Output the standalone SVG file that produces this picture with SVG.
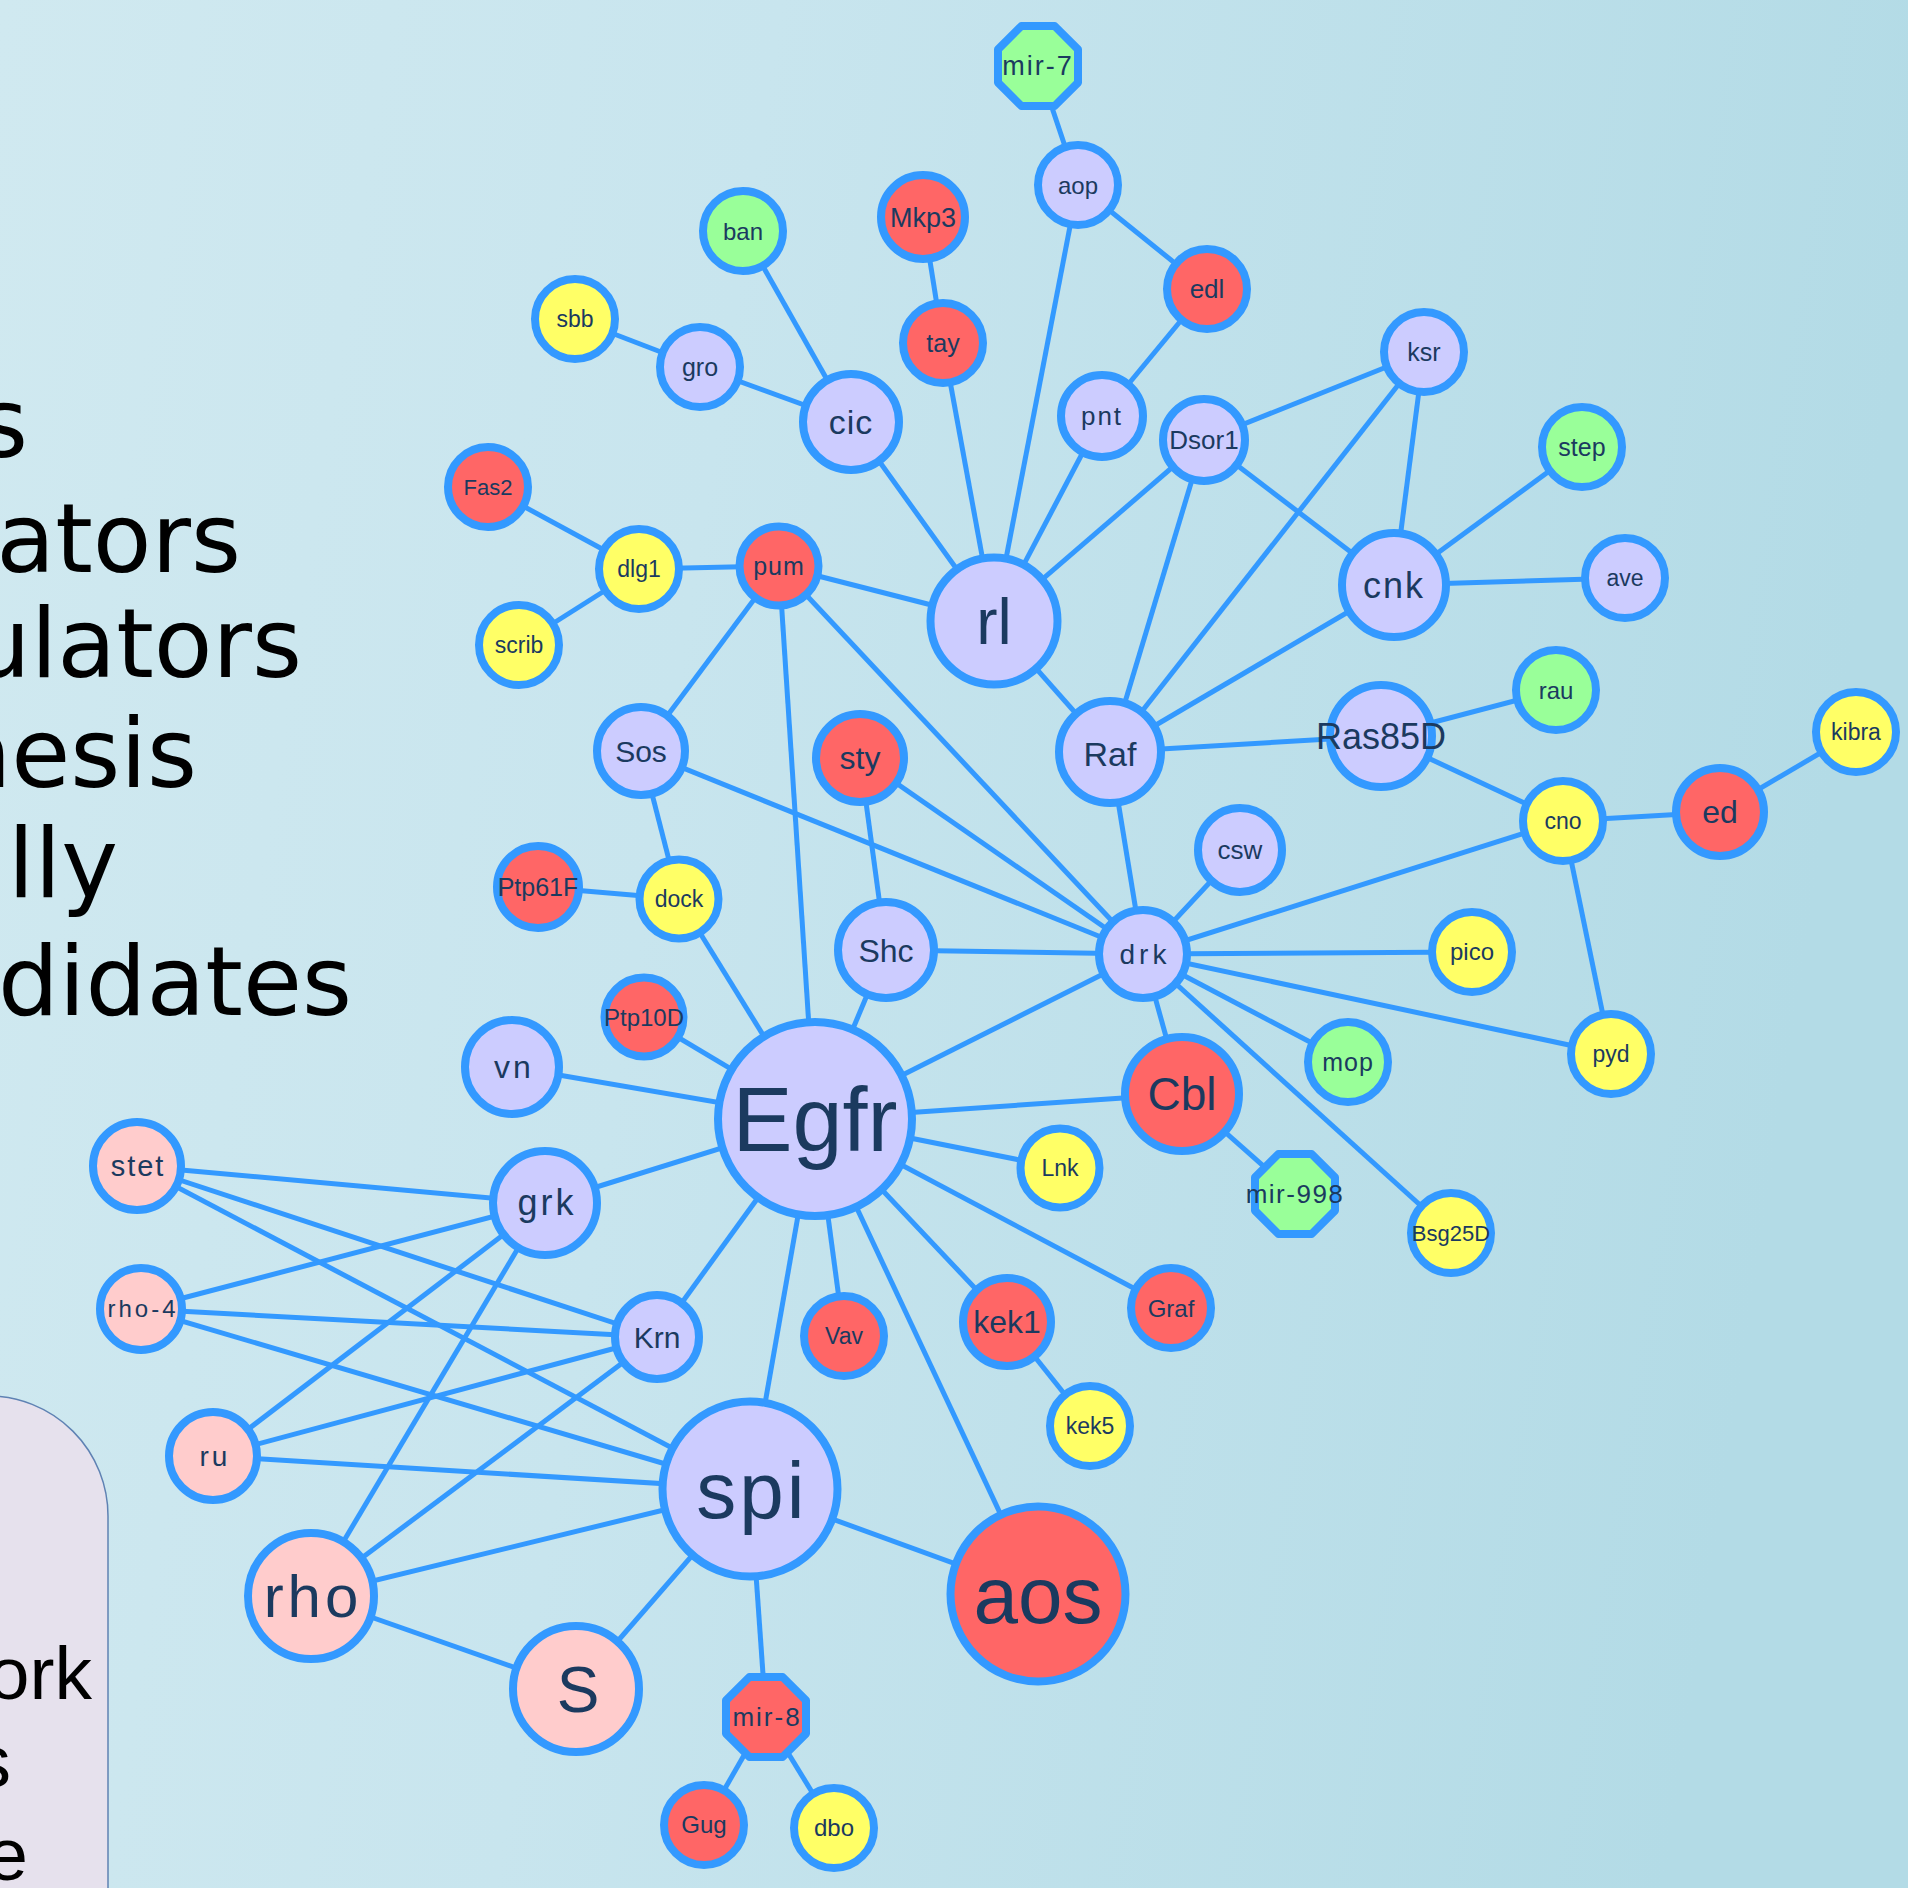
<svg xmlns="http://www.w3.org/2000/svg" width="1908" height="1888" viewBox="0 0 1908 1888">
  <defs>
    <linearGradient id="bg" x1="0" y1="0" x2="1" y2="0.15">
      <stop offset="0" stop-color="#d0e9f0"/>
      <stop offset="0.4" stop-color="#c8e5ee"/>
      <stop offset="1" stop-color="#b3dbe6"/>
    </linearGradient>
    <style>
      .edge { stroke: #3399ff; stroke-width: 5; fill: none; }
      .n { stroke: #3399ff; stroke-width: 8; stroke-linejoin: round; }
      .lav { fill: #ccccff; }
      .red { fill: #ff6666; }
      .yel { fill: #ffff66; }
      .grn { fill: #99ff99; }
      .pnk { fill: #ffcccc; }
      .lbl { font-family: "Liberation Sans", Arial, sans-serif; fill: #1b3a5f; text-anchor: middle; }
      .big { font-family: "DejaVu Sans", sans-serif; font-size: 96px; fill: #000; text-anchor: end; }
      .box { font-family: "Liberation Sans", Arial, sans-serif; font-size: 75px; fill: #000; text-anchor: end; }
    </style>
  </defs>

  <!-- background -->
  <rect x="0" y="0" width="1908" height="1888" fill="url(#bg)"/>

  <!-- left-hand slide text (runs off the page edge) -->
  <g id="side-text">
    <text class="big" x="28" y="457">s</text>
    <text class="big" x="241" y="572">ators</text>
    <text class="big" x="302" y="677">ulators</text>
    <text class="big" x="197" y="787">nesis</text>
    <text class="big" x="118" y="897">ally</text>
    <text class="big" x="352" y="1015">didates</text>
  </g>

  <!-- rounded panel, bottom left -->
  <g id="panel">
    <path d="M -60 1396 L -12 1396 A 120 120 0 0 1 108 1516 L 108 1900 L -60 1900 Z" fill="#e6e1ed" stroke="#5f82b3" stroke-width="1.5"/>
    <text class="box" x="92" y="1699">ork</text>
    <text class="box" x="11" y="1787">s</text>
    <text class="box" x="28" y="1880">e</text>
  </g>

  <!-- connectors -->
  <g id="edges" class="edge">
    <line x1="1038" y1="66" x2="1078" y2="185"/>
    <line x1="1078" y1="185" x2="994" y2="621"/>
    <line x1="1078" y1="185" x2="1207" y2="289"/>
    <line x1="1207" y1="289" x2="1102" y2="416"/>
    <line x1="1102" y1="416" x2="994" y2="621"/>
    <line x1="923" y1="217" x2="943" y2="343"/>
    <line x1="943" y1="343" x2="994" y2="621"/>
    <line x1="743" y1="231" x2="851" y2="422"/>
    <line x1="575" y1="319" x2="700" y2="367"/>
    <line x1="700" y1="367" x2="851" y2="422"/>
    <line x1="851" y1="422" x2="994" y2="621"/>
    <line x1="1204" y1="440" x2="994" y2="621"/>
    <line x1="1204" y1="440" x2="1424" y2="352"/>
    <line x1="1204" y1="440" x2="1394" y2="585"/>
    <line x1="1204" y1="440" x2="1110" y2="752"/>
    <line x1="1424" y1="352" x2="1110" y2="752"/>
    <line x1="1424" y1="352" x2="1394" y2="585"/>
    <line x1="1394" y1="585" x2="1582" y2="447"/>
    <line x1="1394" y1="585" x2="1625" y2="578"/>
    <line x1="1394" y1="585" x2="1110" y2="752"/>
    <line x1="994" y1="621" x2="1110" y2="752"/>
    <line x1="994" y1="621" x2="779" y2="566"/>
    <line x1="488" y1="487" x2="639" y2="569"/>
    <line x1="639" y1="569" x2="779" y2="566"/>
    <line x1="639" y1="569" x2="519" y2="645"/>
    <line x1="779" y1="566" x2="641" y2="751"/>
    <line x1="779" y1="566" x2="815" y2="1119"/>
    <line x1="779" y1="566" x2="1143" y2="954"/>
    <line x1="1110" y1="752" x2="1381" y2="736"/>
    <line x1="1110" y1="752" x2="1143" y2="954"/>
    <line x1="1381" y1="736" x2="1556" y2="690"/>
    <line x1="1381" y1="736" x2="1563" y2="821"/>
    <line x1="1563" y1="821" x2="1720" y2="812"/>
    <line x1="1720" y1="812" x2="1856" y2="732"/>
    <line x1="1563" y1="821" x2="1143" y2="954"/>
    <line x1="1563" y1="821" x2="1611" y2="1054"/>
    <line x1="1240" y1="850" x2="1143" y2="954"/>
    <line x1="641" y1="751" x2="679" y2="899"/>
    <line x1="641" y1="751" x2="1143" y2="954"/>
    <line x1="860" y1="758" x2="886" y2="950"/>
    <line x1="860" y1="758" x2="1143" y2="954"/>
    <line x1="538" y1="887" x2="679" y2="899"/>
    <line x1="679" y1="899" x2="815" y2="1119"/>
    <line x1="886" y1="950" x2="1143" y2="954"/>
    <line x1="886" y1="950" x2="815" y2="1119"/>
    <line x1="1143" y1="954" x2="1472" y2="952"/>
    <line x1="1143" y1="954" x2="1348" y2="1062"/>
    <line x1="1143" y1="954" x2="1611" y2="1054"/>
    <line x1="1143" y1="954" x2="1451" y2="1233"/>
    <line x1="1143" y1="954" x2="1182" y2="1094"/>
    <line x1="1143" y1="954" x2="815" y2="1119"/>
    <line x1="644" y1="1017" x2="815" y2="1119"/>
    <line x1="512" y1="1067" x2="815" y2="1119"/>
    <line x1="815" y1="1119" x2="1182" y2="1094"/>
    <line x1="1182" y1="1094" x2="1295" y2="1194"/>
    <line x1="815" y1="1119" x2="1060" y2="1168"/>
    <line x1="815" y1="1119" x2="1171" y2="1308"/>
    <line x1="815" y1="1119" x2="1007" y2="1322"/>
    <line x1="1007" y1="1322" x2="1090" y2="1426"/>
    <line x1="815" y1="1119" x2="844" y2="1336"/>
    <line x1="815" y1="1119" x2="1038" y2="1594"/>
    <line x1="815" y1="1119" x2="750" y2="1489"/>
    <line x1="815" y1="1119" x2="657" y2="1337"/>
    <line x1="815" y1="1119" x2="545" y2="1203"/>
    <line x1="137" y1="1166" x2="545" y2="1203"/>
    <line x1="137" y1="1166" x2="657" y2="1337"/>
    <line x1="137" y1="1166" x2="750" y2="1489"/>
    <line x1="141" y1="1309" x2="545" y2="1203"/>
    <line x1="141" y1="1309" x2="657" y2="1337"/>
    <line x1="141" y1="1309" x2="750" y2="1489"/>
    <line x1="213" y1="1456" x2="545" y2="1203"/>
    <line x1="213" y1="1456" x2="657" y2="1337"/>
    <line x1="213" y1="1456" x2="750" y2="1489"/>
    <line x1="311" y1="1596" x2="545" y2="1203"/>
    <line x1="311" y1="1596" x2="657" y2="1337"/>
    <line x1="311" y1="1596" x2="750" y2="1489"/>
    <line x1="311" y1="1596" x2="576" y2="1689"/>
    <line x1="576" y1="1689" x2="750" y2="1489"/>
    <line x1="750" y1="1489" x2="1038" y2="1594"/>
    <line x1="750" y1="1489" x2="766" y2="1717"/>
    <line x1="766" y1="1717" x2="704" y2="1825"/>
    <line x1="766" y1="1717" x2="834" y2="1828"/>
  </g>

  <!-- nodes -->
  <g id="n-mir-7"><polygon class="n grn" points="1021.4,26 1054.6,26 1078,49.4 1078,82.6 1054.6,106 1021.4,106 998,82.6 998,49.4"/><text class="lbl" x="1038" y="75" font-size="27" letter-spacing="2">mir-7</text></g>
  <g id="n-aop"><circle class="n lav" cx="1078" cy="185" r="40"/><text class="lbl" x="1078" y="194" font-size="24">aop</text></g>
  <g id="n-ban"><circle class="n grn" cx="743" cy="231" r="40"/><text class="lbl" x="743" y="240" font-size="24">ban</text></g>
  <g id="n-Mkp3"><circle class="n red" cx="923" cy="217" r="42"/><text class="lbl" x="923" y="227" font-size="27">Mkp3</text></g>
  <g id="n-tay"><circle class="n red" cx="943" cy="343" r="40"/><text class="lbl" x="943" y="352" font-size="25">tay</text></g>
  <g id="n-edl"><circle class="n red" cx="1207" cy="289" r="40"/><text class="lbl" x="1207" y="298" font-size="26">edl</text></g>
  <g id="n-sbb"><circle class="n yel" cx="575" cy="319" r="40"/><text class="lbl" x="575" y="327" font-size="23">sbb</text></g>
  <g id="n-gro"><circle class="n lav" cx="700" cy="367" r="40"/><text class="lbl" x="700" y="376" font-size="25">gro</text></g>
  <g id="n-cic"><circle class="n lav" cx="851" cy="422" r="48"/><text class="lbl" x="851" y="434" font-size="34" letter-spacing="1">cic</text></g>
  <g id="n-pnt"><circle class="n lav" cx="1102" cy="416" r="41"/><text class="lbl" x="1102" y="425" font-size="26" letter-spacing="2">pnt</text></g>
  <g id="n-Dsor1"><circle class="n lav" cx="1204" cy="440" r="41"/><text class="lbl" x="1204" y="449" font-size="26">Dsor1</text></g>
  <g id="n-Fas2"><circle class="n red" cx="488" cy="487" r="40"/><text class="lbl" x="488" y="495" font-size="22">Fas2</text></g>
  <g id="n-dlg1"><circle class="n yel" cx="639" cy="569" r="40"/><text class="lbl" x="639" y="577" font-size="23">dlg1</text></g>
  <g id="n-pum"><circle class="n red" cx="779" cy="566" r="39.5"/><text class="lbl" x="779" y="575" font-size="25" letter-spacing="1">pum</text></g>
  <g id="n-rl"><circle class="n lav" cx="994" cy="621" r="63.5"/><text class="lbl" x="994" y="644" font-size="64">rl</text></g>
  <g id="n-scrib"><circle class="n yel" cx="519" cy="645" r="40"/><text class="lbl" x="519" y="653" font-size="23">scrib</text></g>
  <g id="n-ksr"><circle class="n lav" cx="1424" cy="352" r="40"/><text class="lbl" x="1424" y="361" font-size="25">ksr</text></g>
  <g id="n-step"><circle class="n grn" cx="1582" cy="447" r="40"/><text class="lbl" x="1582" y="456" font-size="25">step</text></g>
  <g id="n-cnk"><circle class="n lav" cx="1394" cy="585" r="52"/><text class="lbl" x="1394" y="598" font-size="36" letter-spacing="2">cnk</text></g>
  <g id="n-ave"><circle class="n lav" cx="1625" cy="578" r="40"/><text class="lbl" x="1625" y="586" font-size="23">ave</text></g>
  <g id="n-rau"><circle class="n grn" cx="1556" cy="690" r="40"/><text class="lbl" x="1556" y="699" font-size="24">rau</text></g>
  <g id="n-Raf"><circle class="n lav" cx="1110" cy="752" r="51"/><text class="lbl" x="1110" y="766" font-size="34">Raf</text></g>
  <g id="n-Ras85D"><circle class="n lav" cx="1381" cy="736" r="51"/><text class="lbl" x="1381" y="749" font-size="36">Ras85D</text></g>
  <g id="n-kibra"><circle class="n yel" cx="1856" cy="732" r="40"/><text class="lbl" x="1856" y="740" font-size="23">kibra</text></g>
  <g id="n-cno"><circle class="n yel" cx="1563" cy="821" r="40"/><text class="lbl" x="1563" y="829" font-size="23">cno</text></g>
  <g id="n-ed"><circle class="n red" cx="1720" cy="812" r="44"/><text class="lbl" x="1720" y="823" font-size="32">ed</text></g>
  <g id="n-csw"><circle class="n lav" cx="1240" cy="850" r="42"/><text class="lbl" x="1240" y="859" font-size="26">csw</text></g>
  <g id="n-drk"><circle class="n lav" cx="1143" cy="954" r="44"/><text class="lbl" x="1145" y="964" font-size="28" letter-spacing="4">drk</text></g>
  <g id="n-pico"><circle class="n yel" cx="1472" cy="952" r="40"/><text class="lbl" x="1472" y="960" font-size="24">pico</text></g>
  <g id="n-mop"><circle class="n grn" cx="1348" cy="1062" r="40"/><text class="lbl" x="1348" y="1071" font-size="25" letter-spacing="1">mop</text></g>
  <g id="n-pyd"><circle class="n yel" cx="1611" cy="1054" r="40"/><text class="lbl" x="1611" y="1062" font-size="23">pyd</text></g>
  <g id="n-Cbl"><circle class="n red" cx="1182" cy="1094" r="57"/><text class="lbl" x="1182" y="1110" font-size="46">Cbl</text></g>
  <g id="n-mir-998"><polygon class="n grn" points="1278.4,1154 1311.6,1154 1335,1177.4 1335,1210.6 1311.6,1234 1278.4,1234 1255,1210.6 1255,1177.4"/><text class="lbl" x="1295" y="1203" font-size="26" letter-spacing="1.5">mir-998</text></g>
  <g id="n-Bsg25D"><circle class="n yel" cx="1451" cy="1233" r="40"/><text class="lbl" x="1451" y="1241" font-size="22">Bsg25D</text></g>
  <g id="n-Graf"><circle class="n red" cx="1171" cy="1308" r="40"/><text class="lbl" x="1171" y="1317" font-size="24">Graf</text></g>
  <g id="n-Sos"><circle class="n lav" cx="641" cy="751" r="44"/><text class="lbl" x="641" y="762" font-size="30">Sos</text></g>
  <g id="n-sty"><circle class="n red" cx="860" cy="758" r="44"/><text class="lbl" x="860" y="769" font-size="32">sty</text></g>
  <g id="n-dock"><circle class="n yel" cx="679" cy="899" r="39.5"/><text class="lbl" x="679" y="907" font-size="23">dock</text></g>
  <g id="n-Shc"><circle class="n lav" cx="886" cy="950" r="48"/><text class="lbl" x="886" y="962" font-size="32">Shc</text></g>
  <g id="n-Ptp10D"><circle class="n red" cx="644" cy="1017" r="39.5"/><text class="lbl" x="644" y="1026" font-size="24">Ptp10D</text></g>
  <g id="n-Egfr"><circle class="n lav" cx="815" cy="1119" r="97"/><text class="lbl" x="815" y="1151" font-size="90">Egfr</text></g>
  <g id="n-Lnk"><circle class="n yel" cx="1060" cy="1168" r="39.5"/><text class="lbl" x="1060" y="1176" font-size="23">Lnk</text></g>
  <g id="n-kek1"><circle class="n red" cx="1007" cy="1322" r="44"/><text class="lbl" x="1007" y="1333" font-size="32">kek1</text></g>
  <g id="n-Vav"><circle class="n red" cx="844" cy="1336" r="40"/><text class="lbl" x="844" y="1344" font-size="23">Vav</text></g>
  <g id="n-Krn"><circle class="n lav" cx="657" cy="1337" r="42"/><text class="lbl" x="657" y="1348" font-size="30">Krn</text></g>
  <g id="n-spi"><circle class="n lav" cx="750" cy="1489" r="87.5"/><text class="lbl" x="752" y="1518" font-size="80" letter-spacing="3">spi</text></g>
  <g id="n-aos"><circle class="n red" cx="1038" cy="1594" r="87.5"/><text class="lbl" x="1038" y="1623" font-size="80">aos</text></g>
  <g id="n-kek5"><circle class="n yel" cx="1090" cy="1426" r="40"/><text class="lbl" x="1090" y="1434" font-size="23">kek5</text></g>
  <g id="n-mir-8"><polygon class="n red" points="749.4,1677 782.6,1677 806,1700.4 806,1733.6 782.6,1757 749.4,1757 726,1733.6 726,1700.4"/><text class="lbl" x="767" y="1726" font-size="26" letter-spacing="2">mir-8</text></g>
  <g id="n-Gug"><circle class="n red" cx="704" cy="1825" r="40"/><text class="lbl" x="704" y="1833" font-size="24">Gug</text></g>
  <g id="n-dbo"><circle class="n yel" cx="834" cy="1828" r="40"/><text class="lbl" x="834" y="1836" font-size="24">dbo</text></g>
  <g id="n-Ptp61F"><circle class="n red" cx="538" cy="887" r="41"/><text class="lbl" x="538" y="896" font-size="25">Ptp61F</text></g>
  <g id="n-vn"><circle class="n lav" cx="512" cy="1067" r="47"/><text class="lbl" x="514" y="1078" font-size="32" letter-spacing="3">vn</text></g>
  <g id="n-stet"><circle class="n pnk" cx="137" cy="1166" r="44"/><text class="lbl" x="138" y="1176" font-size="29" letter-spacing="2">stet</text></g>
  <g id="n-grk"><circle class="n lav" cx="545" cy="1203" r="52"/><text class="lbl" x="547" y="1215" font-size="36" letter-spacing="3">grk</text></g>
  <g id="n-rho-4"><circle class="n pnk" cx="141" cy="1309" r="41"/><text class="lbl" x="143" y="1317" font-size="24" letter-spacing="3">rho-4</text></g>
  <g id="n-ru"><circle class="n pnk" cx="213" cy="1456" r="44"/><text class="lbl" x="215" y="1466" font-size="28" letter-spacing="3">ru</text></g>
  <g id="n-rho"><circle class="n pnk" cx="311" cy="1596" r="63"/><text class="lbl" x="313" y="1617" font-size="60" letter-spacing="4">rho</text></g>
  <g id="n-S"><circle class="n pnk" cx="576" cy="1689" r="63"/><text class="lbl" x="578" y="1712" font-size="64">S</text></g>
</svg>
